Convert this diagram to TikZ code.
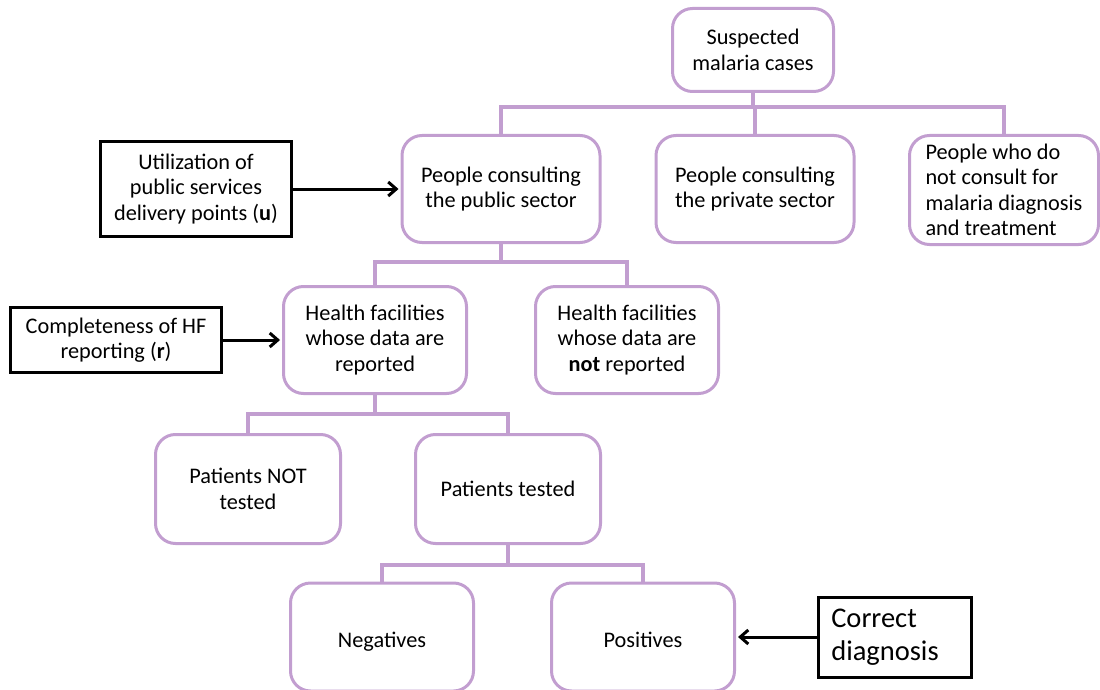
\documentclass[tikz,border=0pt]{standalone}
\usepackage{fontspec}
\setmainfont{Carlito}
\usetikzlibrary{arrows.meta}
\definecolor{lav}{RGB}{194,158,208}
\begin{document}
\begin{tikzpicture}[x=1pt,y=-1pt,
  pbox/.style={draw=lav,line width=3pt,rounded corners=20pt,align=center,inner sep=0pt,
    font=\fontsize{22.3}{25.5}\selectfont},
  kbox/.style={draw=black,line width=3pt,align=center,inner sep=0pt,
    font=\fontsize{22.3}{25.5}\selectfont},
  link/.style={draw=lav,line width=3.5pt},
  arr/.style={draw=black,line width=3pt,-{Straight Barb[length=8pt,width=14pt,line width=3pt]}}]
\useasboundingbox (0,0) rectangle (1100,690);
\node[pbox,minimum width=161pt,minimum height=83pt] (susp) at (753,50) {Suspected\\malaria cases};
\node[pbox,minimum width=198pt,minimum height=107pt] (pub) at (501,189) {People consulting\\the public sector};
\node[pbox,minimum width=198pt,minimum height=107pt] (priv) at (755,189) {People consulting\\the private sector};
\node[pbox,minimum width=189pt,minimum height=109pt,align=left] (nocons) at (1004,190) {People who do\\not consult for\\malaria diagnosis\\and treatment};
\node[kbox,minimum width=191pt,minimum height=94pt] (util) at (196,189) {Utilization of\\public services\\delivery points (\textbf{u})};
\node[pbox,minimum width=183pt,minimum height=107pt] (hfr) at (375,340) {Health facilities\\whose data are\\reported};
\node[pbox,minimum width=183pt,minimum height=107pt] (hfn) at (627,340) {Health facilities\\whose data are\\\textbf{not} reported};
\node[kbox,minimum width=211pt,minimum height=65pt] (compl) at (116,340) {Completeness of HF\\reporting (\textbf{r})};
\node[pbox,minimum width=185pt,minimum height=109pt] (pnt) at (248,489) {Patients NOT\\tested};
\node[pbox,minimum width=185pt,minimum height=109pt] (pt) at (508,489) {Patients tested};
\node[pbox,minimum width=183pt,minimum height=108pt] (neg) at (382,637) {\smash{\raisebox{-10pt}{Negatives}}};
\node[pbox,minimum width=183pt,minimum height=108pt] (pos) at (643,637) {\smash{\raisebox{-10pt}{Positives}}};
\node[kbox,minimum width=153pt,minimum height=80pt,align=left,
  font=\fontsize{28.5}{33}\selectfont] (corr) at (895,637) {Correct\\diagnosis\hspace*{20pt}};
% tree links
\coordinate (b1) at (0,107);
\coordinate (b2) at (0,262);
\coordinate (b3) at (0,414);
\coordinate (b4) at (0,565);
\draw[link] (susp.south) -- (susp.south |- b1) -| (pub.north);
\draw[link] (susp.south |- b1) -| (priv.north);
\draw[link] (susp.south |- b1) -| (nocons.north);
\draw[link] (pub.south) -- (pub.south |- b2) -| (hfr.north);
\draw[link] (pub.south |- b2) -| (hfn.north);
\draw[link] (hfr.south) -- (hfr.south |- b3) -| (pnt.north);
\draw[link] (hfr.south |- b3) -| (pt.north);
\draw[link] (pt.south) -- (pt.south |- b4) -| (neg.north);
\draw[link] (pt.south |- b4) -| (pos.north);
% arrows
\draw[arr] (util.east) -- ([xshift=-2pt]pub.west);
\draw[arr] (compl.east) -- ([xshift=-2pt]hfr.west);
\draw[arr] (corr.west) -- ([xshift=2pt]pos.east);
\end{tikzpicture}
\end{document}
